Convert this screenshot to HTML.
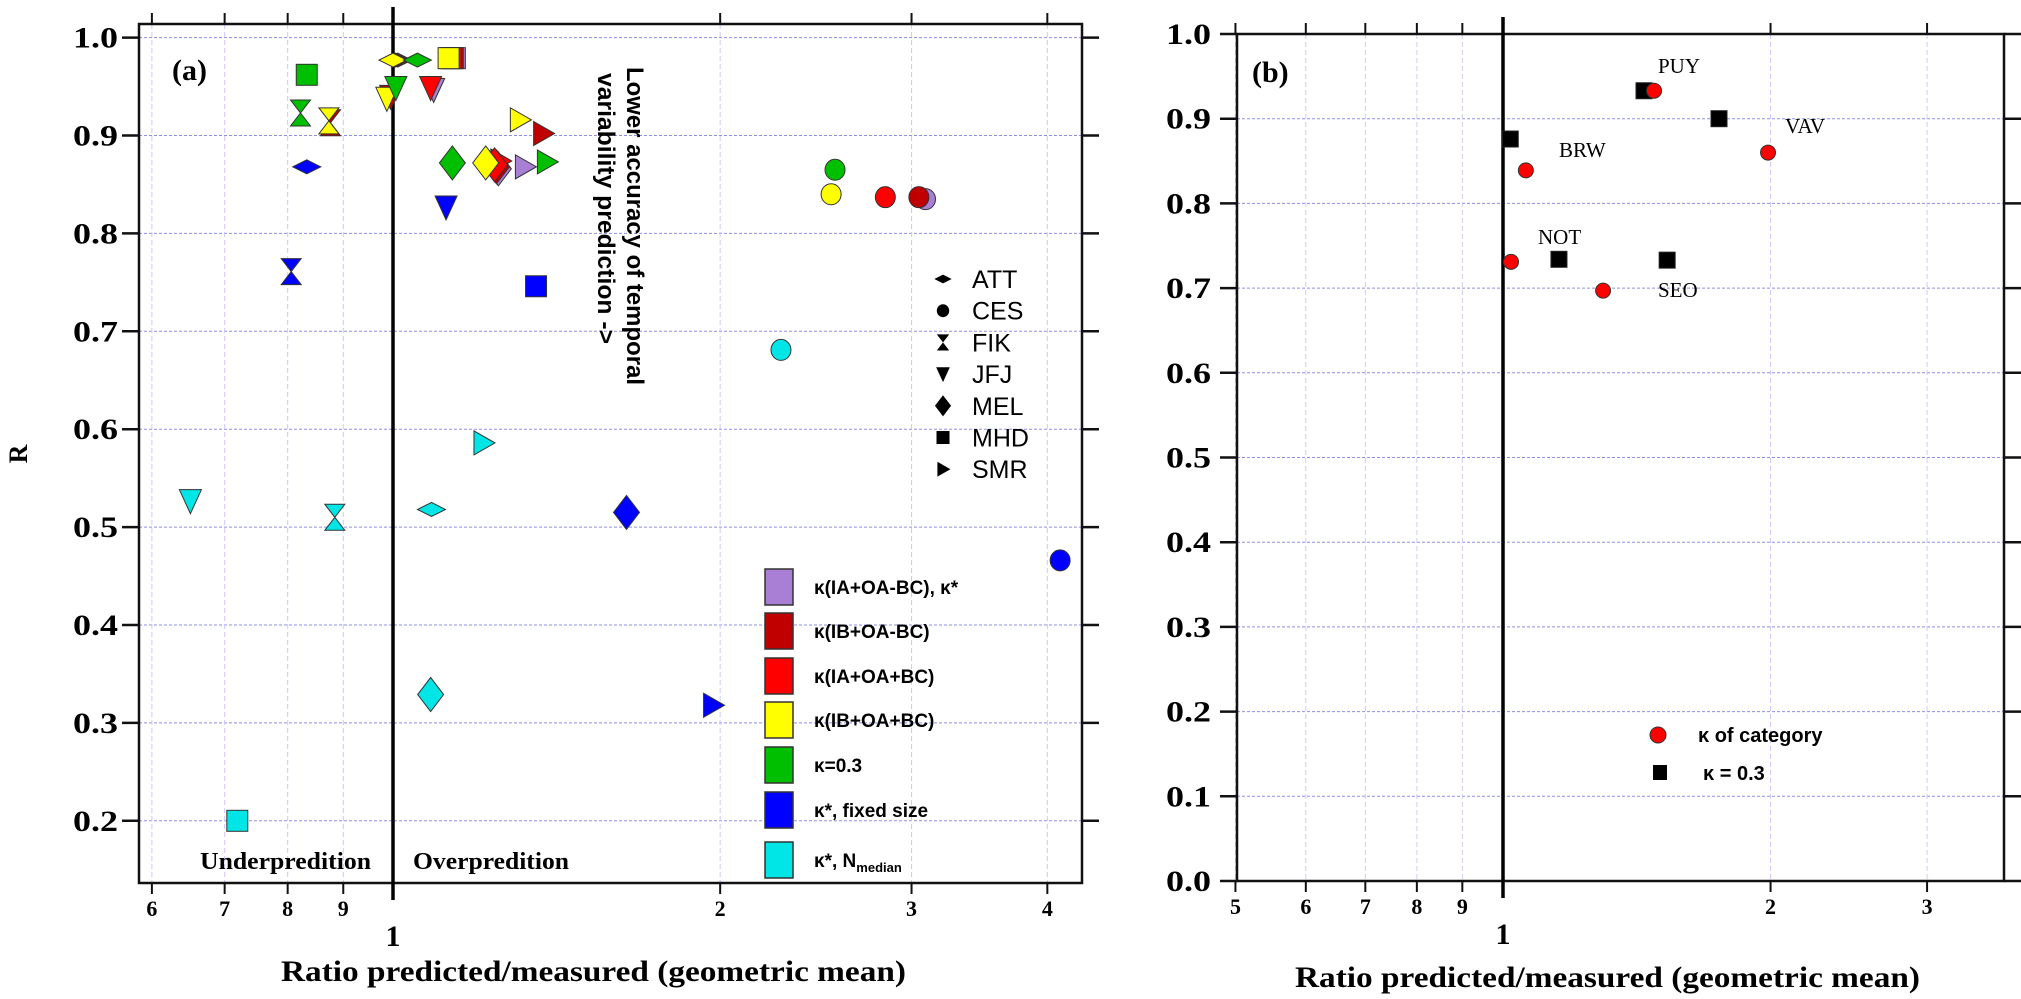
<!DOCTYPE html>
<html><head><meta charset="utf-8"><style>
html,body{margin:0;padding:0;background:#fff;}
svg{display:block;}
.tk{font-family:"Liberation Serif",serif;font-weight:bold;}
.sans{font-family:"Liberation Sans",sans-serif;}
</style></head><body>
<svg id="chart" width="2021" height="999" viewBox="0 0 2021 999" xmlns="http://www.w3.org/2000/svg">
<g id="gridA"></g>
<g id="gridB"></g>
<g id="axesA"></g>
<g id="axesB"></g>
<g id="marksA"></g>
<g id="marksB"></g>

<text class="tk" x="172" y="80" font-size="30" font-family="Liberation Sans Narrow, Liberation Sans, sans-serif">(a)</text>
<text class="tk" x="1252" y="82" font-size="30" font-family="Liberation Sans Narrow, Liberation Sans, sans-serif">(b)</text>
<text class="tk" x="27" y="454" font-size="26" text-anchor="middle" transform="rotate(-90 27 454)">R</text>
<text class="tk" x="281" y="981" font-size="30" textLength="625" lengthAdjust="spacingAndGlyphs">Ratio predicted/measured (geometric mean)</text>
<text class="tk" x="1295" y="987" font-size="30" textLength="625" lengthAdjust="spacingAndGlyphs">Ratio predicted/measured (geometric mean)</text>
<text class="sans" font-weight="bold" font-size="24" x="627" y="67" transform="rotate(90 627 67)" textLength="318" lengthAdjust="spacingAndGlyphs">Lower accuracy of temporal</text>
<text class="sans" font-weight="bold" font-size="24" x="598" y="73" transform="rotate(90 598 73)" textLength="271" lengthAdjust="spacingAndGlyphs">variability prediction -&gt;</text>
<text class="tk" font-family="Liberation Sans Narrow, Liberation Sans, sans-serif" font-size="24" x="200" y="869" textLength="171" lengthAdjust="spacingAndGlyphs">Underpredition</text>
<text class="tk" font-family="Liberation Sans Narrow, Liberation Sans, sans-serif" font-size="24" x="413" y="869" textLength="156" lengthAdjust="spacingAndGlyphs">Overpredition</text>
<g id="legendA"></g>
<g id="legendC"></g>
<g id="legendB"></g>
</svg>
<script>
// ---- Panel (a) data ----
const aSeries  = ["purple","purple","purple","purple","purple",
  "darkred","darkred","darkred","darkred","darkred","darkred","darkred",
  "red","red","red","red","red","red",
  "yellow","yellow","yellow","yellow","yellow","yellow","yellow",
  "green","green","green","green","green","green","green",
  "blue","blue","blue","blue","blue","blue","blue",
  "cyan","cyan","cyan","cyan","cyan","cyan","cyan"];
const aStation = ["MHD","JFJ","SMR","CES","MEL",
  "MHD","ATT","SMR","CES","FIK","JFJ","MEL",
  "MHD","ATT","JFJ","SMR","CES","MEL",
  "ATT","MHD","FIK","JFJ","SMR","MEL","CES",
  "MHD","FIK","ATT","JFJ","MEL","SMR","CES",
  "ATT","FIK","JFJ","MHD","MEL","SMR","CES",
  "JFJ","FIK","MHD","SMR","ATT","MEL","CES"];
const aRatio = [1.14,1.09,1.321,3.09,1.25,
  1.135,1.01,1.373,3.047,0.876,0.995,1.245,
  1.13,1.005,1.083,1.254,2.838,1.24,
  1.0,1.125,0.873,0.987,1.307,1.217,2.53,
  0.833,0.822,1.053,1.006,1.134,1.384,2.551,
  0.833,0.806,1.119,1.354,1.64,1.968,4.11,
  0.651,0.884,0.719,1.21,1.085,1.083,2.275];
const aR = [0.979,0.947,0.868,0.835,0.866,
  0.979,0.977,0.902,0.837,0.913,0.94,0.868,
  0.979,0.977,0.949,0.874,0.837,0.87,
  0.977,0.979,0.915,0.938,0.916,0.872,0.84,
  0.962,0.923,0.977,0.949,0.872,0.873,0.865,
  0.868,0.761,0.827,0.746,0.515,0.318,0.466,
  0.527,0.51,0.2,0.586,0.518,0.329,0.681];
const aYTicks = ["0.2","0.3","0.4","0.5","0.6","0.7","0.8","0.9","1.0"];
const aXTicks = [0.6,0.7,0.8,0.9,2,3,4];
const aXTickLabels = ["6","7","8","9","2","3","4"];
const stationNames = ["ATT","CES","FIK","JFJ","MEL","MHD","SMR"];
const kappaKeys = ["purple","darkred","red","yellow","green","blue","cyan"];
const kappaLabels = ["κ(IA+OA-BC), κ*","κ(IB+OA-BC)","κ(IA+OA+BC)","κ(IB+OA+BC)","κ=0.3","κ*, fixed size","κ*, N"];
// ---- Panel (b) data ----
const bSites = ["PUY","VAV","BRW","NOT","SEO"];
const bRedRatio = [1.479,1.987,1.061,1.021,1.296];
const bRedR = [0.933,0.860,0.839,0.731,0.697];
const bBlackRatio = [1.441,1.75,1.019,1.156,1.53];
const bBlackR = [0.933,0.900,0.876,0.734,0.733];
const bYTicks = ["0.0","0.1","0.2","0.3","0.4","0.5","0.6","0.7","0.8","0.9","1.0"];
const bXTicks = [0.5,0.6,0.7,0.8,0.9,2,3];
const bXTickLabels = ["5","6","7","8","9","2","3"];
const bLabelPos = {PUY:[1658,73],VAV:[1785,133],BRW:[1559,157],NOT:[1538,244],SEO:[1658,297]};

const COLORS = {purple:"#a87fd4",darkred:"#c00000",red:"#ff0000",yellow:"#ffff00",green:"#00bf00",blue:"#0000ff",cyan:"#00e5e5"};
const NS="http://www.w3.org/2000/svg";
function ax(v){return 393+472*Math.log(v);}
function ay(r){return 37.6+(1-r)*979;}
function bx(v){return 1503+386*Math.log(v);}
function by(r){return 881-r*847;}
const A={l:139,r:1082,t:24,b:883}, B={l:1237,r:2004,t:34,b:881};

function mk(tag,attrs,parent){const e=document.createElementNS(NS,tag);for(const k in attrs)e.setAttribute(k,attrs[k]);parent.appendChild(e);return e;}

function shape(st,cx,cy,s,parent){
  let pts;
  if(st==="CES") return mk("ellipse",{cx:cx,cy:cy,rx:10*s,ry:10.5*s},parent);
  if(st==="MHD") return mk("rect",{x:cx-10.5*s,y:cy-10.5*s,width:21*s,height:21*s},parent);
  if(st==="ATT") pts=[[-14,0],[0,-7],[14,0],[0,7]];
  if(st==="MEL") pts=[[-13,0],[0,-17],[13,0],[0,17]];
  if(st==="JFJ") pts=[[-11,-11],[11,-11],[0,13]];
  if(st==="SMR") pts=[[-9,-12],[-9,12],[12,0]];
  if(st==="FIK") pts=[[-10,-13],[10,-13],[-10,13],[10,13]];
  return mk("polygon",{points:pts.map(p=>(cx+p[0]*s)+","+(cy+p[1]*s)).join(" ")},parent);
}

// ---- grids ----
const gA=document.getElementById("gridA"), gB=document.getElementById("gridB");
aYTicks.forEach(t=>{const y=ay(+t);const l=mk("line",{x1:A.l,x2:A.r,y1:y,y2:y,stroke:"#8f8fe8","stroke-width":1,"stroke-dasharray":"3,2"},gA);

});
aXTicks.forEach(v=>{const x=ax(v);const l=mk("line",{x1:x,x2:x,y1:A.t,y2:A.b,stroke:"#cacafc","stroke-width":1,"stroke-dasharray":"5,3"},gA);

});
bYTicks.forEach(t=>{const y=by(+t);const l=mk("line",{x1:B.l,x2:B.r,y1:y,y2:y,stroke:"#8f8fe8","stroke-width":1,"stroke-dasharray":"3,2"},gB);

});
bXTicks.forEach(v=>{const x=bx(v);const l=mk("line",{x1:x,x2:x,y1:B.t,y2:B.b,stroke:"#cacafc","stroke-width":1,"stroke-dasharray":"5,3"},gB);

});

// ---- axes ----
function drawAxes(g,P,fx,fy,yT,xT,xL,oneY,tickLabelY,yLabRight){
  mk("rect",{x:P.l,y:P.t,width:P.r-P.l,height:P.b-P.t,fill:"none",stroke:"#111","stroke-width":2.5},g);
  yT.forEach(t=>{const y=fy(+t);
    mk("line",{x1:P.l-17,x2:P.l,y1:y,y2:y,stroke:"#111","stroke-width":2.5},g);
    mk("line",{x1:P.r,x2:P.r+17,y1:y,y2:y,stroke:"#111","stroke-width":2.5},g);
    const tx=mk("text",{x:yLabRight,y:y+10,"text-anchor":"end","font-size":30,"class":"tk",textLength:45,lengthAdjust:"spacingAndGlyphs"},g);
    tx.textContent=t;
    
    
  });
  xT.forEach((v,i)=>{const x=fx(v);
    mk("line",{x1:x,x2:x,y1:P.b,y2:P.b+11,stroke:"#111","stroke-width":2},g);
    mk("line",{x1:x,x2:x,y1:P.t-11,y2:P.t,stroke:"#111","stroke-width":2},g);
    const tx=mk("text",{x:x,y:tickLabelY,"text-anchor":"middle","font-size":22,"class":"tk"},g);
    tx.textContent=xL[i];
    
    
  });
  const x1=fx(1);
  const ln=mk("line",{x1:x1,x2:x1,y1:P.t-17,y2:P.b+17,stroke:"#000","stroke-width":3.5},g);
  
  
  const one=mk("text",{x:x1,y:oneY,"text-anchor":"middle","font-size":30,"class":"tk"},g);
  one.textContent="1";
  
  
}
drawAxes(document.getElementById("axesA"),A,ax,ay,aYTicks,aXTicks,aXTickLabels,946,916,118);
drawAxes(document.getElementById("axesB"),B,bx,by,bYTicks,bXTicks,bXTickLabels,944,914,1211);

// ---- panel a markers ----
const mA=document.getElementById("marksA");
for(let i=0;i<aRatio.length;i++){
  const e=shape(aStation[i],ax(aRatio[i]),ay(aR[i]),1,mA);
  e.setAttribute("fill",COLORS[aSeries[i]]);e.setAttribute("stroke","#333");e.setAttribute("stroke-width","1");
  
  
}
// ---- station legend ----
const lA=document.getElementById("legendA");
stationNames.forEach((s,i)=>{const y=279+i*31.7;
  const e=shape(s,943,y,0.62,lA);e.setAttribute("fill","#000");
  
  
  const t=mk("text",{x:972,y:y+9,"font-size":25,"class":"sans"},lA);t.textContent=s;
  
  
});
// ---- kappa legend ----
const lC=document.getElementById("legendC");
const kY=[587,631,676,720,765,810,860];
kappaKeys.forEach((k,i)=>{
  const r=mk("rect",{x:765,y:kY[i]-18,width:28,height:36,fill:COLORS[k],stroke:"#333","stroke-width":1.5},lC);
  
  
  const t=mk("text",{x:814,y:kY[i]+7,"font-size":19,"font-weight":"bold","class":"sans"},lC);
  t.textContent=kappaLabels[i];
  if(i===6){const sub=mk("tspan",{"font-size":13,dy:5},t);sub.textContent="median";}
  
  
});

// ---- panel b markers ----
const mB=document.getElementById("marksB");
for(let i=0;i<bSites.length;i++){
  const s=mk("rect",{x:bx(bBlackRatio[i])-8,y:by(bBlackR[i])-8,width:16,height:16,fill:"#000",stroke:"#222","stroke-width":1},mB);
  
  
}
for(let i=0;i<bSites.length;i++){
  const c=mk("circle",{cx:bx(bRedRatio[i]),cy:by(bRedR[i]),r:7.5,fill:"#ff0000",stroke:"#333","stroke-width":1},mB);
  
  
  const p=bLabelPos[bSites[i]];
  const t=mk("text",{x:p[0],y:p[1],"font-size":21,"font-family":"Liberation Serif, serif"},mB);
  t.textContent=bSites[i];
  
  
}
// ---- panel b legend ----
const lB=document.getElementById("legendB");
const lc=mk("circle",{cx:1658,cy:735,r:8,fill:"#ff0000",stroke:"#333","stroke-width":1},lB);


const lt1=mk("text",{x:1698,y:742,"font-size":20,"font-weight":"bold","class":"sans"},lB);lt1.textContent="κ of category";


const ls=mk("rect",{x:1653,y:765,width:14,height:15,fill:"#000"},lB);


const lt2=mk("text",{x:1703,y:780,"font-size":20,"font-weight":"bold","class":"sans"},lB);lt2.textContent="κ = 0.3";


</script>
</body></html>
